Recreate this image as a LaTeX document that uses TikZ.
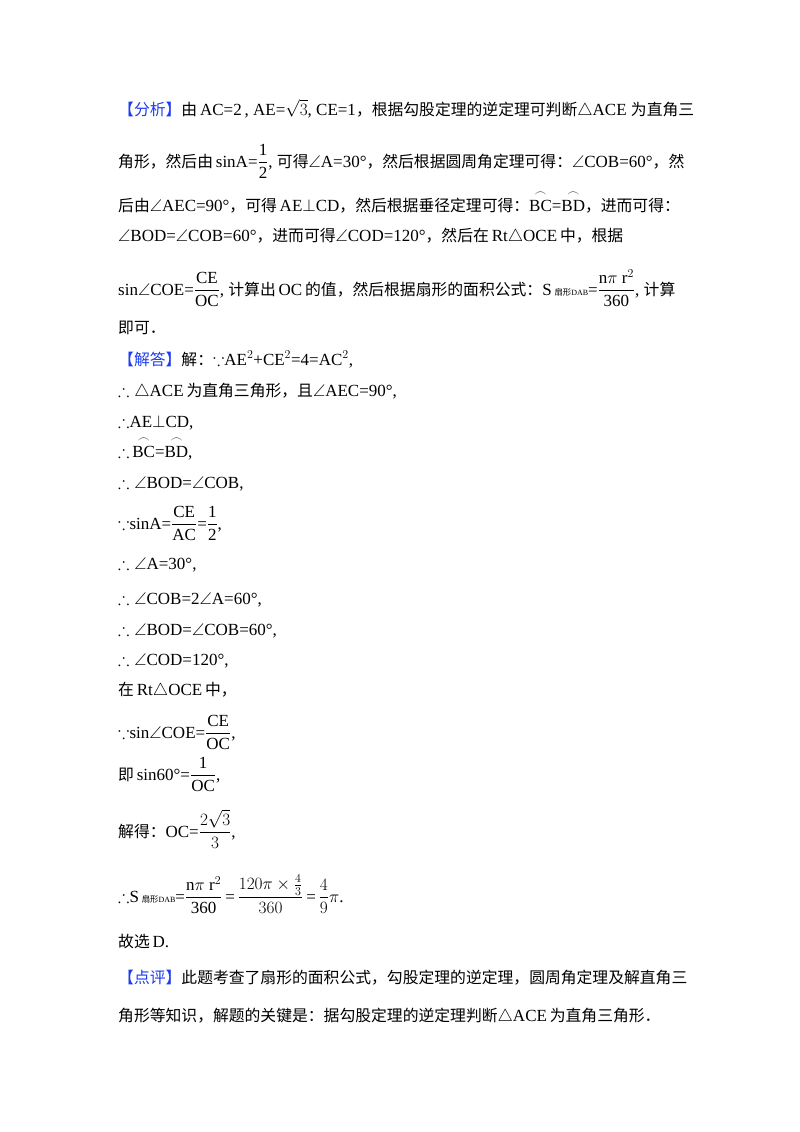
\documentclass[tikz,border=0pt]{standalone}
\usepackage{amsmath,amssymb}
\usepackage{fontspec}
\setmainfont{Liberation Serif}
\newfontfamily\cjk[Scale=0.93]{Noto Sans CJK SC}
\newcommand\z[1]{{\cjk #1}}
\newcommand\zs[1]{{\fontsize{9}{9}\selectfont\cjk #1}}
\definecolor{tagblue}{RGB}{30,60,240}
\newcommand\tg[1]{{\color{tagblue}\cjk 【#1】}}
\newcommand\fr[2]{$\dfrac{\text{#1}}{\text{#2}}$}
\newcommand\arc[1]{$\overset{\frown}{\text{#1}}$}
\begin{document}
\begin{tikzpicture}[x=1pt,y=-1pt,
  ln/.style={anchor=base west,inner sep=0pt,font=\fontsize{17}{20}\selectfont}]
\useasboundingbox (0,0) rectangle (800,1132);
\fill[white] (0,0) rectangle (800,1132);
\node[ln] (l1) at (118,115) {\tg{分析}\z{由}\,AC=2\,, AE=$\sqrt{3}$, CE=1\z{，根据勾股定理的逆定理可判断}$\triangle$ACE \z{为直角三}};
\node[ln] (l2) at (118,167) {\z{角形，然后由}\,sinA=\fr{1}{2}, \z{可得}$\angle$A=30°\z{，然后根据圆周角定理可得：}$\angle$COB=60°\z{，然}};
\node[ln] (l3) at (118,211) {\z{后由}$\angle$AEC=90°\z{，可得}\,AE$\perp$CD\z{，然后根据垂径定理可得：}\arc{BC}=\arc{BD}\z{，进而可得：}};
\node[ln] (l4) at (118,241) {$\angle$BOD=$\angle$COB=60°\z{，进而可得}$\angle$COD=120°\z{，然后在}\,Rt$\triangle$OCE\,\z{中，根据}};
\node[ln] (l5) at (118,295) {sin$\angle$COE=\fr{CE}{OC}, \z{计算出}\,OC\,\z{的值，然后根据扇形的面积公式：}S\,\zs{扇形}{\footnotesize DAB}=\fr{n$\pi$ r$^2$}{360}, \z{计算}};
\node[ln] (l6) at (118,333) {\z{即可．}};
\node[ln] (l7) at (118,365) {\tg{解答}\z{解：}$\because$AE$^2$+CE$^2$=4=AC$^2$,};
\node[ln] (l8) at (118,396) {$\therefore\triangle$ACE\,\z{为直角三角形，且}$\angle$AEC=90°,};
\node[ln] (l9) at (118,427) {$\therefore$AE$\perp$CD,};
\node[ln] (l10) at (118,457) {$\therefore$\,\arc{BC}=\arc{BD},};
\node[ln] (l11) at (118,488) {$\therefore\angle$BOD=$\angle$COB,};
\node[ln] (l12) at (118,529) {$\because$sinA=\fr{CE}{AC}=\fr{1}{2},};
\node[ln] (l13) at (118,569) {$\therefore\angle$A=30°,};
\node[ln] (l14) at (118,604) {$\therefore\angle$COB=2$\angle$A=60°,};
\node[ln] (l15) at (118,635) {$\therefore\angle$BOD=$\angle$COB=60°,};
\node[ln] (l16) at (118,665) {$\therefore\angle$COD=120°,};
\node[ln] (l17) at (118,695) {\z{在}\,Rt$\triangle$OCE\,\z{中，}};
\node[ln] (l18) at (118,738) {$\because$sin$\angle$COE=\fr{CE}{OC},};
\node[ln] (l19) at (118,780) {\z{即}\,sin60°=\fr{1}{OC},};
\node[ln] (l20) at (118,837) {\z{解得：}OC=$\dfrac{2\sqrt{3}}{3}$,};
\node[ln] (l21) at (118,902) {$\therefore$S\,\zs{扇形}{\footnotesize DAB}=\fr{n$\pi$ r$^2$}{360}\,=\,$\dfrac{120\pi\times\frac{4}{3}}{360}$\,=\,$\dfrac{4}{9}\pi$.};
\node[ln] (l22) at (118,947) {\z{故选}\,D.};
\node[ln] (l23) at (118,983) {\tg{点评}\z{此题考查了扇形的面积公式，勾股定理的逆定理，圆周角定理及解直角三}};
\node[ln] (l24) at (118,1021) {\z{角形等知识，解题的关键是：据勾股定理的逆定理判断}$\triangle$ACE\,\z{为直角三角形．}};
\end{tikzpicture}
\end{document}
